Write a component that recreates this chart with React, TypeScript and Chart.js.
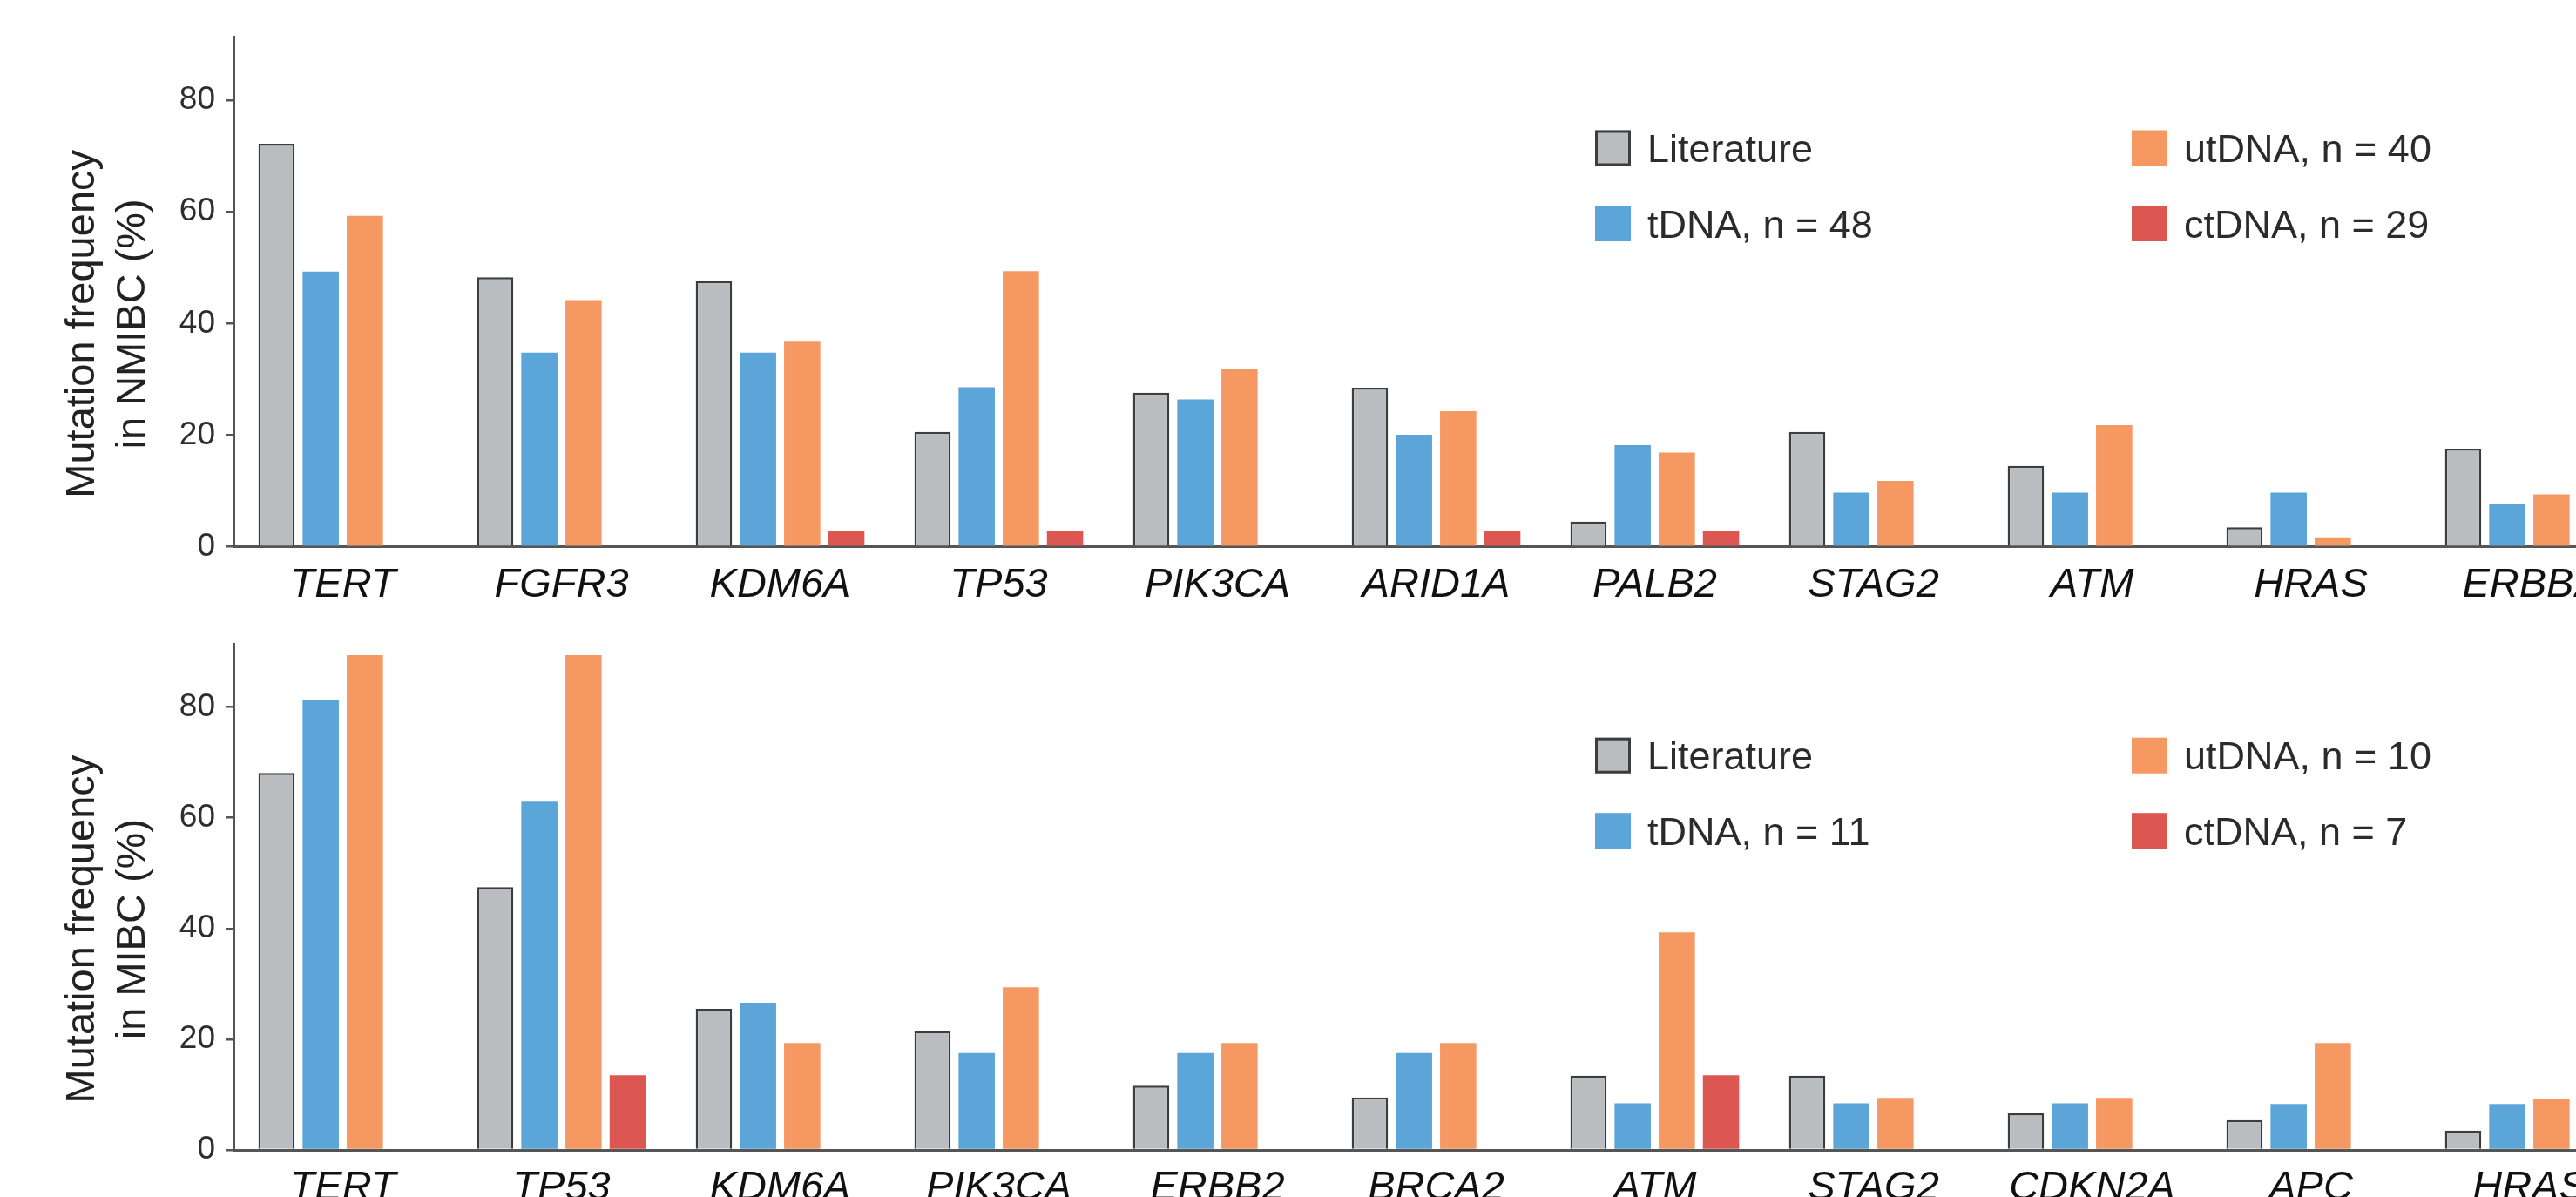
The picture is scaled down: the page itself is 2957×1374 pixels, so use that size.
import React, { useEffect, useRef } from "react";
import { Chart, registerables } from "chart.js";

Chart.register(...registerables);

// ---------- data ----------
const nmibcGenes = ["TERT", "FGFR3", "KDM6A", "TP53", "PIK3CA", "ARID1A", "PALB2", "STAG2", "ATM", "HRAS", "ERBB2"];
const nmibcLiterature = [72.2, 48.3, 47.6, 20.6, 27.6, 28.5, 4.5, 20.6, 14.5, 3.5, 17.6];
const nmibcTDNA = [49.3, 34.8, 34.8, 28.6, 26.4, 20.1, 18.2, 9.7, 9.7, 9.7, 7.6];
const nmibcUtDNA = [59.3, 44.2, 36.9, 49.4, 31.9, 24.3, 16.9, 11.8, 21.8, 1.7, 9.4];
const nmibcCtDNA = [0, 0, 2.8, 2.8, 0, 2.8, 2.8, 0, 0, 0, 0];
const nmibcLegend = ["Literature", "tDNA, n = 48", "utDNA, n = 40", "ctDNA, n = 29"];

const mibcGenes = ["TERT", "TP53", "KDM6A", "PIK3CA", "ERBB2", "BRCA2", "ATM", "STAG2", "CDKN2A", "APC", "HRAS"];
const mibcLiterature = [68.1, 47.5, 25.5, 21.5, 11.6, 9.5, 13.4, 13.4, 6.6, 5.4, 3.5];
const mibcTDNA = [81.3, 62.9, 26.6, 17.5, 17.5, 17.5, 8.4, 8.4, 8.4, 8.3, 8.3];
const mibcUtDNA = [89.4, 89.4, 19.3, 29.4, 19.3, 19.3, 39.3, 9.4, 9.4, 19.3, 9.3];
const mibcCtDNA = [0, 13.5, 0, 0, 0, 0, 13.5, 0, 0, 0, 0];
const mibcLegend = ["Literature", "tDNA, n = 11", "utDNA, n = 10", "ctDNA, n = 7"];

const yTickValues = [0, 20, 40, 60, 80];
const yMax = 91.4;

const nmibcTitle = ["Mutation frequency", "in NMIBC (%)"];
const mibcTitle = ["Mutation frequency", "in MIBC (%)"];

// ---------- styles ----------
const FONT = "'Liberation Sans', Arial, Helvetica, sans-serif";
const COLORS = {
  lit: "#BABDC0",
  litBorder: "#3d3d3d",
  t: "#5BA5D8",
  ut: "#F59862",
  ct: "#DD5752",
  axis: "#555555",
};
const CANVAS_W = 3100;
const CANVAS_H = 705;

const legendPlugin = {
  id: "customLegend",
  afterDraw(chart: any) {
    const ctx = chart.ctx;
    const top = chart.chartArea.top;
    const cols = [1831, 2447];
    const rows = [top + 128, top + 214.5];
    const dsList = chart.data.datasets;
    const box = 41;
    ctx.save();
    ctx.font = `45px ${FONT}`;
    ctx.textAlign = "left";
    ctx.textBaseline = "alphabetic";
    dsList.forEach((ds: any, i: number) => {
      const x = cols[Math.floor(i / 2)];
      const cy = rows[i % 2];
      const y = cy - box / 2;
      ctx.fillStyle = ds.backgroundColor;
      ctx.fillRect(x, y, box, box);
      if (ds.borderWidth > 0) {
        ctx.strokeStyle = ds.borderColor;
        ctx.lineWidth = 3;
        ctx.strokeRect(x + 1.5, y + 1.5, box - 3, box - 3);
      }
      ctx.fillStyle = "#2b2b2b";
      ctx.fillText(ds.label, x + 60, cy + 16);
    });
    ctx.restore();
  },
};

const yTitlePlugin = {
  id: "yTitle",
  afterDraw(chart: any, _args: any, opts: any) {
    const lines: string[] = opts.lines || [];
    const ctx = chart.ctx;
    const cy = (chart.chartArea.top + chart.chartArea.bottom) / 2 + 37;
    const baselines = [108, 166];
    ctx.save();
    ctx.font = `47px ${FONT}`;
    ctx.fillStyle = "#222";
    ctx.textAlign = "center";
    ctx.textBaseline = "alphabetic";
    lines.forEach((ln, i) => {
      ctx.save();
      ctx.translate(baselines[i], cy);
      ctx.rotate(-Math.PI / 2);
      ctx.fillText(ln, 0, 0);
      ctx.restore();
    });
    ctx.restore();
  },
};

function makeConfig(
  labels: string[],
  series: number[][],
  legend: string[],
  title: string[],
  padTop: number,
  plotBottom: number
): any {
  const fills = [COLORS.lit, COLORS.t, COLORS.ut, COLORS.ct];
  const datasets = series.map((d, i) => ({
    label: legend[i],
    data: d,
    backgroundColor: fills[i],
    borderColor: i === 0 ? COLORS.litBorder : fills[i],
    borderWidth: i === 0 ? 2.5 : 0,
    categoryPercentage: 0.808,
    barPercentage: 0.82,
  }));
  return {
    type: "bar",
    data: { labels, datasets },
    plugins: [legendPlugin, yTitlePlugin],
    options: {
      animation: false,
      responsive: false,
      maintainAspectRatio: false,
      devicePixelRatio: 1,
      layout: { padding: { top: padTop, right: 71, left: 0, bottom: 0 } },
      plugins: {
        legend: { display: false },
        tooltip: { enabled: false },
        yTitle: { lines: title },
      },
      scales: {
        x: {
          type: "category",
          offset: true,
          grid: { display: false, drawTicks: false, tickLength: 0 },
          border: { display: true, color: COLORS.axis, width: 3 },
          ticks: {
            font: { size: 47, style: "italic", family: FONT },
            color: "#111",
            padding: 16,
            maxRotation: 0,
            autoSkip: false,
          },
          afterFit: (s: any) => {
            s.height = CANVAS_H - plotBottom;
          },
        },
        y: {
          min: 0,
          max: yMax,
          grid: {
            display: true,
            drawOnChartArea: false,
            drawTicks: true,
            tickLength: 9,
            color: COLORS.axis,
            lineWidth: 2.5,
          },
          border: { display: true, color: COLORS.axis, width: 3 },
          ticks: {
            stepSize: 20,
            includeBounds: false,
            font: { size: 37, family: FONT },
            color: "#2e2e2e",
            padding: 12,
          },
          afterBuildTicks: (s: any) => {
            s.ticks = yTickValues.map((v) => ({ value: v }));
          },
          afterFit: (s: any) => {
            s.width = 268;
          },
        },
      },
    },
  };
}

function BarPanel(props: {
  labels: string[];
  series: number[][];
  legend: string[];
  title: string[];
  top: number;
  padTop: number;
  plotBottom: number;
}) {
  const ref = useRef<HTMLCanvasElement | null>(null);
  useEffect(() => {
    if (!ref.current) return;
    const chart = new Chart(
      ref.current,
      makeConfig(props.labels, props.series, props.legend, props.title, props.padTop, props.plotBottom)
    );
    return () => chart.destroy();
  }, []);
  return (
    <canvas
      ref={ref}
      width={CANVAS_W}
      height={CANVAS_H}
      style={{ position: "absolute", left: 0, top: props.top, width: CANVAS_W, height: CANVAS_H }}
    />
  );
}

export default function App() {
  return (
    <div
      style={{
        position: "fixed",
        left: 0,
        top: 0,
        width: "100vw",
        height: "100vh",
        overflow: "hidden",
        background: "#ffffff",
      }}
    >
      <BarPanel
        labels={nmibcGenes}
        series={[nmibcLiterature, nmibcTDNA, nmibcUtDNA, nmibcCtDNA]}
        legend={nmibcLegend}
        title={nmibcTitle}
        top={0}
        padTop={42}
        plotBottom={627.7}
      />
      <BarPanel
        labels={mibcGenes}
        series={[mibcLiterature, mibcTDNA, mibcUtDNA, mibcCtDNA]}
        legend={mibcLegend}
        title={mibcTitle}
        top={705}
        padTop={28}
        plotBottom={615}
      />
    </div>
  );
}
